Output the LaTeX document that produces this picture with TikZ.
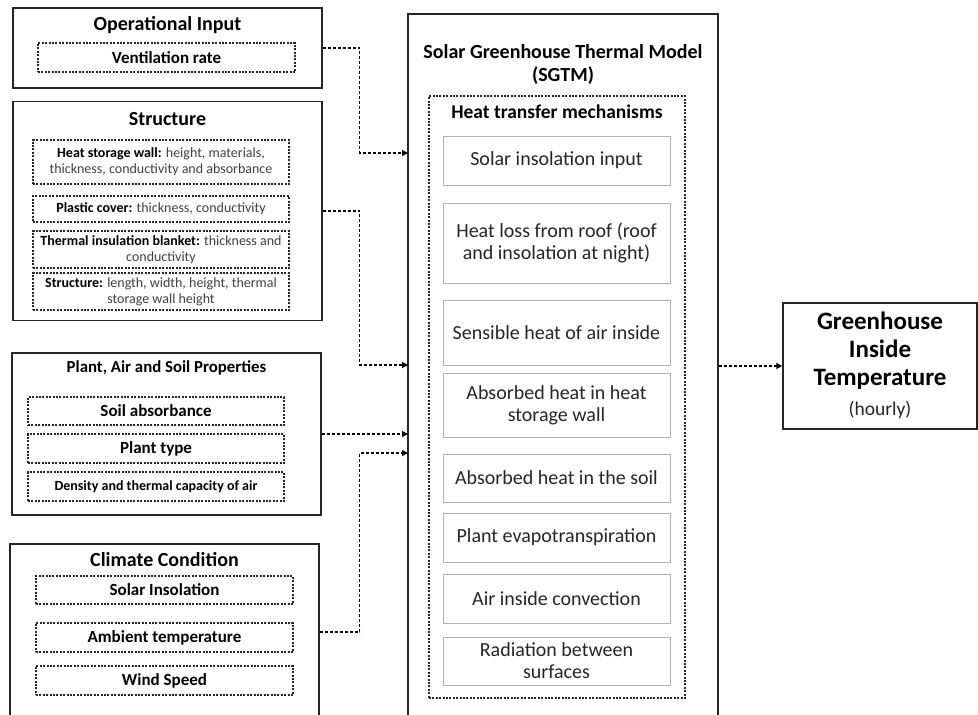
\documentclass[tikz,border=0pt]{standalone}
\usepackage{fontspec}
\setmainfont{Carlito}
\usetikzlibrary{arrows.meta}
\begin{document}
\begin{tikzpicture}[x=1pt,y=-1pt,
  outer/.style={draw=black!85, line width=1.5pt, rectangle, inner sep=0pt},
  dbox/.style={draw=black!85, line width=1.1pt, dash pattern=on 2pt off 1.4pt, rectangle, inner sep=0pt, align=center},
  gbox/.style={draw=black!30, line width=0.8pt, rectangle, inner sep=0pt, align=center, font=\fontsize{20}{22}\selectfont, text=black!85},
  conn/.style={line width=1.2pt, dash pattern=on 3pt off 2pt, -{Triangle[length=6pt,width=6pt]}},
  ttl/.style={font=\bfseries\fontsize{20}{24}\selectfont, align=center, inner sep=0pt},
  sub/.style={font=\bfseries\fontsize{17}{20}\selectfont},
  small/.style={font=\fontsize{14}{16}\selectfont, text=black!75},
]
\useasboundingbox (0,0) rectangle (978,715);
\clip (0,0) rectangle (978,715);
\fill[white] (0,0) rectangle (978,715);

% Operational input
\node[outer, minimum width=309pt, minimum height=80pt] (op) at (167.5,48) {};
\node[ttl] (opt) at (167.5,25) {Operational Input};
\node[dbox, sub, minimum width=257pt, minimum height=29pt] (vent) at (166.5,57.5) {Ventilation rate};

% Structure
\node[outer, minimum width=309pt, minimum height=219pt] (st) at (167.5,211) {};
\node[ttl] (stt) at (167.5,119) {Structure};
\node[dbox, small, minimum width=256pt, minimum height=44pt] (hsw) at (161,162) {\textbf{\color{black}Heat storage wall:} height, materials,\\thickness, conductivity and absorbance};
\node[dbox, small, minimum width=256pt, minimum height=26pt] (pc) at (161,209) {\textbf{\color{black}Plastic cover:} thickness, conductivity};
\node[dbox, small, minimum width=256pt, minimum height=37pt] (tib) at (161,249.5) {\textbf{\color{black}Thermal insulation blanket:} thickness and\\conductivity};
\node[dbox, small, minimum width=256pt, minimum height=37pt] (sts) at (161,291.5) {\textbf{\color{black}Structure:} length, width, height, thermal\\storage wall height};

% Plant, Air and Soil
\node[outer, minimum width=309pt, minimum height=162pt] (pl) at (166.5,434) {};
\node[ttl, font=\bfseries\fontsize{16.8}{20}\selectfont] (plt) at (166.5,368) {Plant, Air and Soil Properties};
\node[dbox, sub, minimum width=256pt, minimum height=28pt] (soil) at (156,411) {Soil absorbance};
\node[dbox, sub, minimum width=256pt, minimum height=29pt] (ptype) at (156,448.5) {Plant type};
\node[dbox, font=\bfseries\fontsize{14}{16}\selectfont, minimum width=256pt, minimum height=29pt] (dens) at (156,486.5) {Density and thermal capacity of air};

% Climate
\node[outer, minimum width=309pt, minimum height=176pt] (cl) at (164.5,632) {};
\node[ttl] (clt) at (164.5,560) {Climate Condition};
\node[dbox, sub, minimum width=257pt, minimum height=28pt] (si) at (164.5,590) {Solar Insolation};
\node[dbox, sub, minimum width=257pt, minimum height=29pt] (amb) at (164.5,637.5) {Ambient temperature};
\node[dbox, sub, minimum width=257pt, minimum height=29pt] (ws) at (164.5,680.5) {Wind Speed};

% SGTM
\node[outer, minimum width=310pt, minimum height=704pt] (sg) at (563,366) {};
\node[ttl, font=\bfseries\fontsize{20}{23}\selectfont] (sgt) at (563,64.5) {Solar Greenhouse Thermal Model\\(SGTM)};
\node[dbox, minimum width=256pt, minimum height=602pt] (htm) at (557,397) {};
\node[ttl, font=\bfseries\fontsize{19.5}{22}\selectfont] (htmt) at (557,112) {Heat transfer mechanisms};
\node[gbox, minimum width=227pt, minimum height=49pt] (m1) at (556.5,160.5) {Solar insolation input};
\node[gbox, minimum width=227pt, minimum height=80pt] (m2) at (556.5,243) {Heat loss from roof (roof\\and insolation at night)};
\node[gbox, minimum width=227pt, minimum height=65pt] (m3) at (556.5,332.5) {Sensible heat of air inside};
\node[gbox, minimum width=227pt, minimum height=64pt] (m4) at (556.5,405) {Absorbed heat in heat\\storage wall};
\node[gbox, minimum width=227pt, minimum height=48pt] (m5) at (556.5,478) {Absorbed heat in the soil};
\node[gbox, minimum width=227pt, minimum height=49pt] (m6) at (556.5,537.5) {Plant evapotranspiration};
\node[gbox, minimum width=227pt, minimum height=49pt] (m7) at (556.5,598.5) {Air inside convection};
\node[gbox, minimum width=227pt, minimum height=48pt] (m8) at (556.5,661) {Radiation between\\surfaces};

% Output
\node[outer, minimum width=194pt, minimum height=126pt] (gh) at (880,366) {};
\node[ttl, font=\bfseries\fontsize{25}{28}\selectfont] (ght) at (880,351) {Greenhouse\\Inside\\Temperature};
\node[font=\fontsize{19.5}{22}\selectfont, text=black!85] (ghh) at (880,410) {(hourly)};

% connector endpoints on SGTM
\coordinate (in1) at (408,153);
\coordinate (in2) at (408,365);
\coordinate (in3) at (408,434);
\coordinate (in4) at (408,453);

\draw[conn] (op.east) -- ++(37,0) |- (in1);
\draw[conn] (st.east) -- ++(37,0) |- (in2);
\draw[conn] (pl.east) -- (in3);
\draw[conn] (cl.east) -- ++(40,0) |- (in4);
\draw[conn] (sg.east) -- (gh.west);
\end{tikzpicture}
\end{document}
